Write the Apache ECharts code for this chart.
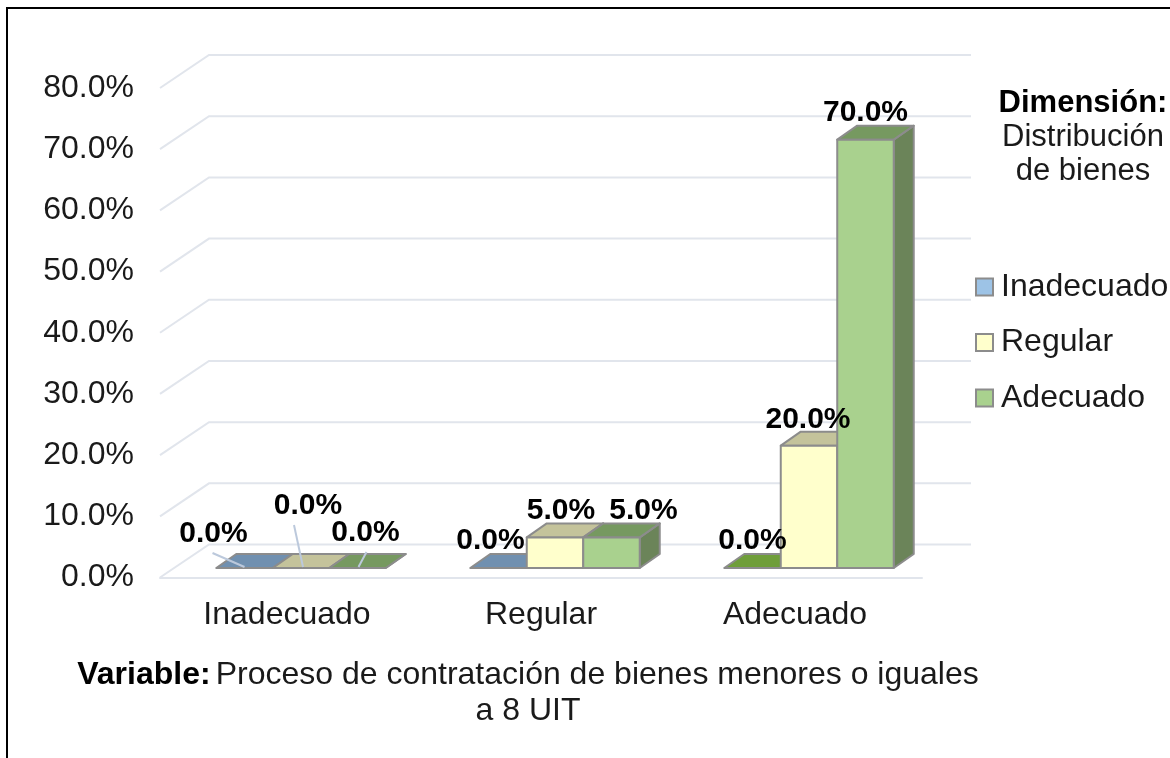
<!DOCTYPE html>
<html>
<head>
<meta charset="utf-8">
<title>Proceso de contratación</title>
<script src="https://cdn.jsdelivr.net/npm/echarts@6/dist/echarts.min.js"></script>
<style>
  html, body { margin: 0; padding: 0; background: #fff; }
  #main { width: 1170px; height: 758px; }
</style>
</head>
<body>
<div id="main"></div>
<script>
// datos
const categories = ["Inadecuado", "Regular", "Adecuado"];
const seriesNames = ["Inadecuado", "Regular", "Adecuado"];
const inadecuado = [0, 0, 0];
const regular = [0, 5, 20];
const adecuado = [0, 5, 70];
const yTicks = [0, 10, 20, 30, 40, 50, 60, 70, 80];

// colores de cada cara: frente, arriba, lado
const faces = [
  { front: "#9DC3E6", top: "#7090B0", side: "#6F8FAE" },
  { front: "#FFFFCC", top: "#C4C39B", side: "#BDBC8F" },
  { front: "#A9D18E", top: "#769960", side: "#6B8459" },
];

// desplazamiento de cada etiqueta respecto al centro superior de su barra
const labelNudges = [
  [[-31, -34], [-8, -27], [0, -27]],
  [[7, -62], [6, -27], [-1, -26]],
  [[8, -35], [32, -27], [0, -27]],
];
// lineas guia del primer grupo, relativas a la base de la barra
const leaders = [
  [[-32, -15], [0, -1]],
  [[-7, -43], [2, -1]],
  [[9, -16], [1, -1]],
];

const FONT = '"Liberation Sans", Arial, sans-serif';
const EDGE = "#8C8C8C";
const WALL = "#E1E5EC";
const wallDx = 49, wallDy = -33; // profundidad de las paredes
const barDx = 14, barDy = -9.5; // plano frontal de las barras
const depthDx = 20, depthDy = -14; // profundidad de cada barra

function renderWall(params, api) {
  const y = api.coord([0, api.value(0)])[1];
  const box = params.coordSys;
  return {
    type: "polyline",
    silent: true,
    shape: {
      points: [
        [box.x, y],
        [box.x + wallDx, y + wallDy],
        [box.x + box.width + wallDx, y + wallDy],
      ],
    },
    style: { fill: null, stroke: WALL, lineWidth: 2 },
  };
}

function bar3d(s) {
  return function (params, api) {
    const i = api.value(0);
    const v = api.value(1);
    const top = api.coord([i, v]);
    const base = api.coord([i, 0]);
    const w = api.size([1, 0])[0] * 0.2224;
    const x0 = top[0] + barDx + (s - 1) * w - w / 2;
    const x1 = x0 + w;
    const yTop = top[1] + barDy;
    const yBase = base[1] + barDy;
    const edge = { stroke: EDGE, lineWidth: 2, lineJoin: "round" };
    let topColor = faces[s].top;
    // la barra vacia del tercer grupo sale verde en el original
    if (s === 0 && i === 2) topColor = "#6F9E3A";

    const children = [
      {
        type: "polygon",
        shape: { points: [[x1, yTop], [x1 + depthDx, yTop + depthDy], [x1 + depthDx, yBase + depthDy], [x1, yBase]] },
        style: Object.assign({ fill: faces[s].side }, edge),
      },
      {
        type: "polygon",
        shape: { points: [[x0, yTop], [x0 + depthDx, yTop + depthDy], [x1 + depthDx, yTop + depthDy], [x1, yTop]] },
        style: Object.assign({ fill: topColor }, edge),
      },
    ];
    if (v > 0) {
      children.push({
        type: "rect",
        shape: { x: x0, y: yTop, width: w, height: yBase - yTop },
        style: Object.assign({ fill: faces[s].front }, edge),
      });
    }
    const cx = (x0 + x1) / 2;
    if (i === 0) {
      children.push({
        type: "line",
        z2: 50,
        shape: {
          x1: cx + leaders[s][0][0], y1: yBase + leaders[s][0][1],
          x2: cx + leaders[s][1][0], y2: yBase + leaders[s][1][1],
        },
        style: { stroke: "#BCC9DC", lineWidth: 2 },
      });
    }
    children.push({
      type: "text",
      z2: 100,
      style: {
        x: cx + labelNudges[s][i][0],
        y: yTop + labelNudges[s][i][1],
        text: v.toFixed(1) + "%",
        fill: "#000",
        font: 'bold 30px ' + FONT,
        textAlign: "center",
        textVerticalAlign: "middle",
      },
    });
    return { type: "group", children: children };
  };
}

function barSeries(s, values) {
  return {
    name: seriesNames[s],
    type: "custom",
    renderItem: bar3d(s),
    encode: { x: 0, y: 1 },
    itemStyle: { color: faces[s].front, borderColor: EDGE, borderWidth: 2 },
    data: values.map((v, i) => [i, v]),
  };
}

const myChart = echarts.init(document.getElementById("main"), null, { renderer: "canvas" });

const option = {
  backgroundColor: "#fff",
  animation: false,
  textStyle: { fontFamily: FONT },
  grid: { left: 160, right: 248, top: 88, bottom: 180.5 },
  xAxis: {
    type: "category",
    data: categories,
    axisTick: { show: false },
    axisLine: { lineStyle: { color: WALL, width: 2 } },
    axisLabel: { color: "#1A1A1A", fontSize: 32, fontFamily: FONT, margin: 22 },
  },
  yAxis: {
    type: "value",
    min: 0,
    max: 80,
    interval: 10,
    splitLine: { show: false },
    axisLine: { show: false },
    axisTick: { show: false },
    axisLabel: {
      color: "#1A1A1A",
      fontSize: 32,
      fontFamily: FONT,
      margin: 26,
      padding: [5, 0, 0, 0],
      formatter: (v) => v.toFixed(1) + "%",
    },
  },
  legend: {
    orient: "vertical",
    left: 970,
    top: 266,
    itemWidth: 17,
    itemHeight: 17,
    itemGap: 23.5,
    icon: "rect",
    data: seriesNames,
    textStyle: { color: "#1A1A1A", fontSize: 32, fontFamily: FONT, padding: [0, 0, 0, 3] },
  },
  title: [
    {
      left: 523,
      top: 652,
      textAlign: "center",
      text: "{b|Variable:} {n|Proceso de contratación de bienes menores o iguales}\n{n|a 8 UIT}",
      textStyle: {
        fontWeight: "normal",
        rich: {
          b: { fontSize: 32, fontWeight: "bold", color: "#000", fontFamily: FONT, lineHeight: 36 },
          n: { fontSize: 32, fontWeight: "normal", color: "#1A1A1A", fontFamily: FONT, lineHeight: 36 },
        },
      },
    },
    {
      left: 1078,
      top: 81,
      textAlign: "center",
      text: "{b|Dimensión:}\n{n|Distribución}\n{n|de bienes}",
      textStyle: {
        fontWeight: "normal",
        rich: {
          b: { fontSize: 31, fontWeight: "bold", color: "#000", fontFamily: FONT, lineHeight: 34 },
          n: { fontSize: 31, fontWeight: "normal", color: "#1A1A1A", fontFamily: FONT, lineHeight: 34 },
        },
      },
    },
  ],
  graphic: [
    {
      type: "polyline",
      silent: true,
      shape: { points: [[7, 758], [7, 8], [1170, 8]] },
      style: { fill: null, stroke: "#000", lineWidth: 2 },
    },
  ],
  series: [
    {
      name: "paredes",
      type: "custom",
      renderItem: renderWall,
      encode: { y: 0 },
      silent: true,
      z: 1,
      data: yTicks.map((v) => [v]),
    },
    barSeries(0, inadecuado),
    barSeries(1, regular),
    barSeries(2, adecuado),
  ],
};

myChart.setOption(option);
</script>
</body>
</html>
